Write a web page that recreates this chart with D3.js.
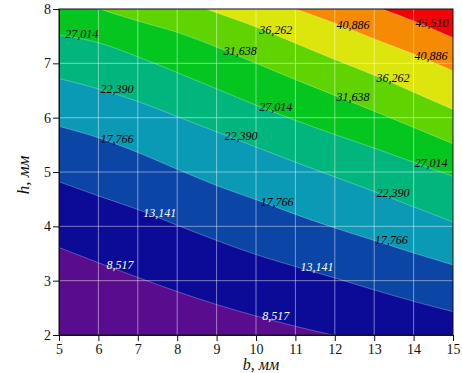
<!DOCTYPE html>
<html>
<head>
<meta charset="utf-8">
<script src="https://cdn.jsdelivr.net/npm/d3@7"></script>
<style>
  body { margin: 0; background: #fff; }
</style>
</head>
<body>
<div id="vis"></div>
<script>
var width = 462
var height = 373

// b axis (columns where the contour heights were read)
var bValues = [5, 6, 7, 8, 9, 10, 11, 12, 13, 14, 15]

// contour levels
var levels = [8.517, 13.141, 17.766, 22.390, 27.014, 31.638, 36.262, 40.886, 45.510]

// h where each level crosses b = 5..15 (values past 2 or 8 are where the line has left the frame)
var h8517  = [3.61, 3.33, 3.06, 2.80, 2.56, 2.35, 2.16, 1.99, 1.83, 1.68, 1.54]
var h13141 = [4.82, 4.56, 4.31, 4.02, 3.74, 3.48, 3.26, 3.05, 2.83, 2.62, 2.43]
var h17766 = [5.84, 5.63, 5.36, 5.05, 4.75, 4.49, 4.22, 3.97, 3.74, 3.51, 3.29]
var h22390 = [6.72, 6.53, 6.30, 6.02, 5.74, 5.46, 5.18, 4.91, 4.64, 4.36, 4.08]
var h27014 = [7.52, 7.38, 7.12, 6.83, 6.53, 6.23, 5.95, 5.69, 5.44, 5.18, 4.92]
var h31638 = [8.30, 8.01, 7.78, 7.57, 7.30, 7.00, 6.70, 6.41, 6.12, 5.82, 5.52]
var h36262 = [8.95, 8.70, 8.45, 8.20, 7.93, 7.67, 7.37, 7.07, 6.78, 6.47, 6.15]
var h40886 = [9.55, 9.30, 9.05, 8.80, 8.54, 8.27, 8.00, 7.74, 7.45, 7.17, 6.86]
var h45510 = [10.2, 9.92, 9.66, 9.40, 9.14, 8.87, 8.60, 8.32, 8.05, 7.78, 7.47]

var contourH = [h8517, h13141, h17766, h22390, h27014, h31638, h36262, h40886, h45510]

// one colour per band, lowest first
var bandColors = ["#5a0c8e", "#0b0b98", "#0b45a6", "#0a9ab6", "#00b67c",
                  "#05c61e", "#5fd400", "#dde60c", "#f68a02", "#ef0505"]

// where the level labels sit: [level index, b]
var labelSpots = [[0, 6.55], [0, 10.5], [1, 7.56], [1, 11.55],
                  [2, 6.47], [2, 10.53], [2, 13.43],
                  [3, 6.47], [3, 9.62], [3, 13.48],
                  [4, 5.58], [4, 10.5], [4, 14.44],
                  [5, 9.6], [5, 12.46],
                  [6, 10.5], [6, 13.48],
                  [7, 12.46], [7, 14.44],
                  [8, 14.47]]

var xTicks = [5, 6, 7, 8, 9, 10, 11, 12, 13, 14, 15]
var yTicks = [2, 3, 4, 5, 6, 7, 8]

var svg = d3.select("#vis")
  .append("svg")
  .attr("width", width)
  .attr("height", height)
  .style("display", "block")
  .style("font-family", "'Liberation Serif', 'Times New Roman', serif")

var x = d3.scaleLinear().domain([5, 15]).range([59, 453])
var y = d3.scaleLinear().domain([2, 8]).range([335, 9])

svg.append("clipPath").attr("id", "plotClip")
  .append("rect")
  .attr("x", x(5)).attr("y", y(8))
  .attr("width", x(15) - x(5)).attr("height", y(2) - y(8))

var plot = svg.append("g").attr("clip-path", "url(#plotClip)")

// lowest band covers everything, then each level paints its upper side
plot.append("rect")
  .attr("x", x(5)).attr("y", y(8))
  .attr("width", x(15) - x(5)).attr("height", y(2) - y(8))
  .attr("fill", bandColors[0])

var area = d3.area()
  .x(d => x(d.b))
  .y0(d => y(d.h))
  .y1(y(12))
  .curve(d3.curveMonotoneX)

var line = d3.line()
  .x(d => x(d.b))
  .y(d => y(d.h))
  .curve(d3.curveMonotoneX)

contourH.forEach(function(hs, k) {
  var pts = bValues.map((b, i) => ({b: b, h: hs[i]}))
  plot.append("path")
    .attr("d", area(pts))
    .attr("fill", bandColors[k + 1])
})

contourH.forEach(function(hs) {
  var pts = bValues.map((b, i) => ({b: b, h: hs[i]}))
  plot.append("path")
    .attr("d", line(pts))
    .attr("fill", "none")
    .attr("stroke", "rgba(255,255,255,0.35)")
    .attr("stroke-width", 0.8)
})

// grid
plot.append("g")
  .selectAll("line")
  .data(xTicks.slice(1, -1))
  .enter().append("line")
    .attr("x1", d => x(d)).attr("x2", d => x(d))
    .attr("y1", y(2)).attr("y2", y(8))
    .attr("stroke", "rgba(255,255,255,0.45)")
    .attr("stroke-width", 1)

plot.append("g")
  .selectAll("line")
  .data(yTicks.slice(1, -1))
  .enter().append("line")
    .attr("x1", x(5)).attr("x2", x(15))
    .attr("y1", d => y(d)).attr("y2", d => y(d))
    .attr("stroke", "rgba(255,255,255,0.45)")
    .attr("stroke-width", 1)

// level labels
var fmt = v => d3.format(".3f")(v).replace(".", ",")
var hAt = function(k, b) {
  var hs = contourH[k]
  var i = Math.min(Math.floor(b - 5), bValues.length - 2)
  var t = (b - bValues[i]) / (bValues[i + 1] - bValues[i])
  return hs[i] + t * (hs[i + 1] - hs[i])
}

plot.append("g")
  .selectAll("text")
  .data(labelSpots)
  .enter().append("text")
    .attr("x", d => x(d[1]))
    .attr("y", d => y(hAt(d[0], d[1])) - 1.5)
    .attr("text-anchor", "middle")
    .style("font-size", "12px")
    .style("font-style", "italic")
    .attr("fill", d => d[0] < 2 ? "#ffffff" : "#000000")
    .text(d => fmt(levels[d[0]]))

// frame
svg.append("rect")
  .attr("x", x(5)).attr("y", y(8))
  .attr("width", x(15) - x(5)).attr("height", y(2) - y(8))
  .attr("fill", "none")
  .attr("stroke", "#111")
  .attr("stroke-width", 1)

// axes
var xAxis = svg.append("g")
  .attr("transform", `translate(0,${y(2)})`)
  .call(d3.axisBottom(x).tickValues(xTicks).tickFormat(d3.format("d")).tickSizeOuter(0).tickSize(6).tickPadding(3))

var yAxis = svg.append("g")
  .attr("transform", `translate(${x(5)},0)`)
  .call(d3.axisLeft(y).tickValues(yTicks).tickFormat(d3.format("d")).tickSizeOuter(0).tickSize(6).tickPadding(2))

svg.selectAll(".tick text")
  .style("font-family", "'Liberation Serif', 'Times New Roman', serif")
  .style("font-size", "14px")
  .attr("fill", "#111")
svg.selectAll(".tick line").attr("stroke", "#111")
svg.selectAll(".domain").attr("stroke", "#111")

// axis titles
svg.append("text")
  .attr("transform", "translate(29,175) rotate(-90)")
  .attr("text-anchor", "middle")
  .style("font-size", "17px")
  .style("font-style", "italic")
  .attr("fill", "#111")
  .text("h, мм")

svg.append("text")
  .attr("x", 261)
  .attr("y", 370)
  .attr("text-anchor", "middle")
  .style("font-size", "16px")
  .style("font-style", "italic")
  .attr("fill", "#111")
  .text("b, мм")
</script>
</body>
</html>
